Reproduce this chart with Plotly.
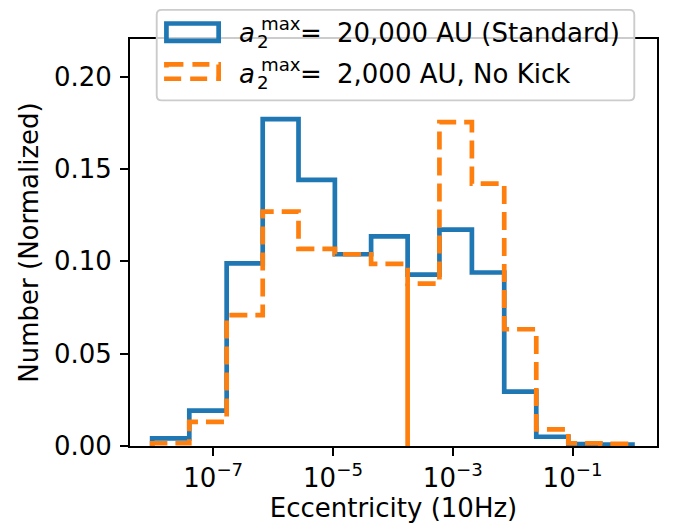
import plotly.graph_objects as go

# ---------------- data ----------------
bin_edges_log10 = [-8.02, -7.40, -6.776, -6.174, -5.576, -4.969, -4.364,
                   -3.754, -3.223, -2.681, -2.141, -1.606, -1.071, -0.535, 0.0]
standard_heights = [0.0041, 0.0191, 0.0989, 0.1769, 0.1441, 0.1038, 0.1135,
                    0.0928, 0.1171, 0.0939, 0.0294, 0.0050, 0.0010, 0.0007]
nokick_heights = [0.0015, 0.0131, 0.0708, 0.1269, 0.1067, 0.1038, 0.0986,
                  0.0879, 0.1753, 0.1420, 0.0632, 0.0090, 0.0015, 0.0011]
nokick_spike_log10 = -3.754
nokick_spike_height = 0.088
x_tick_exponents = [-7, -5, -3, -1]
y_tick_values = [0.00, 0.05, 0.10, 0.15, 0.20]
standard_label = "= 20,000 AU (Standard)"
nokick_label = "= 2,000 AU, No Kick"

BLUE = "#1f77b4"
ORANGE = "#ff7f0e"
FONT = "DejaVu Sans"
FS = 26

# the page body adds an 8px offset; all pixel targets below are window pixels
OFF = 8
W, H = 676 - OFF, 529 - OFF
L, R, T, B = 130, 656.7, 38.5, 446.0


def px_x(p):
    return (p - L) / (R - L)


def px_y(p):
    return (B - p) / (B - T)


def step_xy(edges_log, heights):
    edges = [10 ** e for e in edges_log]
    x = [edges[0]] + edges
    y = [0] + list(heights) + [0]
    return x, y


fig = go.Figure()

xs, ys = step_xy(bin_edges_log10, standard_heights)
fig.add_trace(go.Scatter(x=xs, y=ys, mode="lines", line_shape="hv",
                         line=dict(color=BLUE, width=4.7),
                         name="a2max = 20,000 AU (Standard)", showlegend=False))
xo, yo = step_xy(bin_edges_log10, nokick_heights)
fig.add_trace(go.Scatter(x=xo, y=yo, mode="lines", line_shape="hv",
                         line=dict(color=ORANGE, width=4.7, dash="18px,8px"),
                         name="a2max = 2,000 AU, No Kick", showlegend=False))
fig.add_trace(go.Scatter(x=[10 ** nokick_spike_log10] * 2, y=[0, nokick_spike_height],
                         mode="lines", line=dict(color=ORANGE, width=4.7),
                         showlegend=False, hoverinfo="skip"))

# ---------------- legend drawn by hand ----------------
shapes = []
lx0, lx1, ly0, ly1, rr = 156.7, 634.0, 9.3, 100.0, 5.0
rx = rr / (R - L)
ry = rr / (B - T)
X0, X1, Y0, Y1 = px_x(lx0), px_x(lx1), px_y(ly0), px_y(ly1)
path = (f"M {X0 + rx},{Y0} L {X1 - rx},{Y0} Q {X1},{Y0} {X1},{Y0 - ry} "
        f"L {X1},{Y1 + ry} Q {X1},{Y1} {X1 - rx},{Y1} L {X0 + rx},{Y1} "
        f"Q {X0},{Y1} {X0},{Y1 + ry} L {X0},{Y0 - ry} Q {X0},{Y0} {X0 + rx},{Y0} Z")
shapes.append(dict(type="path", xref="paper", yref="paper", path=path,
                   fillcolor="rgba(255,255,255,0.8)",
                   line=dict(color="#cccccc", width=1.9), layer="above"))
shapes.append(dict(type="rect", xref="paper", yref="paper",
                   x0=px_x(166.4), x1=px_x(218.6), y0=px_y(23.0), y1=px_y(40.3),
                   line=dict(color=BLUE, width=4.7), fillcolor="rgba(0,0,0,0)",
                   layer="above"))
shapes.append(dict(type="rect", xref="paper", yref="paper",
                   x0=px_x(166.4), x1=px_x(218.6), y0=px_y(64.0), y1=px_y(78.3),
                   line=dict(color=ORANGE, width=4.7, dash="17px,9px"),
                   fillcolor="rgba(0,0,0,0)", layer="above"))

annotations = []


def ann(text, x, y, size=FS, xanchor="left"):
    annotations.append(dict(text=text, x=px_x(x), y=px_y(y), xref="paper", yref="paper",
                            xanchor=xanchor, yanchor="middle", showarrow=False,
                            font=dict(family=FONT, size=size, color="black")))


for row_y, label in [(31.3, standard_label), (72.5, nokick_label)]:
    ann("<i>a</i>", 237.0, row_y + 1.5)
    ann("max", 259.0, row_y - 8.0, size=FS * 0.7)
    ann("2", 255.0, row_y + 9.5, size=FS * 0.7)
    ann(label.split(" ", 1)[0], 298.0, row_y + 1.0)
    ann(label.split(" ", 1)[1], 335.0, row_y + 1.0)

fig.update_layout(
    width=W, height=H,
    margin=dict(l=L - OFF, r=OFF + W - R, t=T - OFF, b=OFF + H - B, pad=0),
    paper_bgcolor="white", plot_bgcolor="white",
    font=dict(family=FONT, size=FS, color="black"),
    showlegend=False,
    shapes=shapes, annotations=annotations,
    xaxis=dict(type="log", range=[-8.39, 0.41],
               tickvals=[10 ** e for e in x_tick_exponents],
               ticktext=[f"10<sup>−{-e}</sup>" for e in x_tick_exponents],
               ticks="outside", ticklen=8, tickwidth=1.9, tickcolor="black",
               showline=True, linecolor="black", linewidth=1.9, mirror=True,
               showgrid=False, zeroline=False,
               title=dict(text="Eccentricity (10Hz)", standoff=6,
                          font=dict(family=FONT, size=FS))),
    yaxis=dict(range=[0, 0.2203],
               tickvals=y_tick_values,
               ticktext=[f"{v:.2f}" for v in y_tick_values],
               ticks="outside", ticklen=8, tickwidth=1.9, tickcolor="black",
               ticklabelstandoff=3,
               showline=True, linecolor="black", linewidth=1.9, mirror=True,
               showgrid=False, zeroline=False,
               title=dict(text="Number (Normalized)", standoff=8,
                          font=dict(family=FONT, size=FS))),
)

fig.write_html("out.html")
